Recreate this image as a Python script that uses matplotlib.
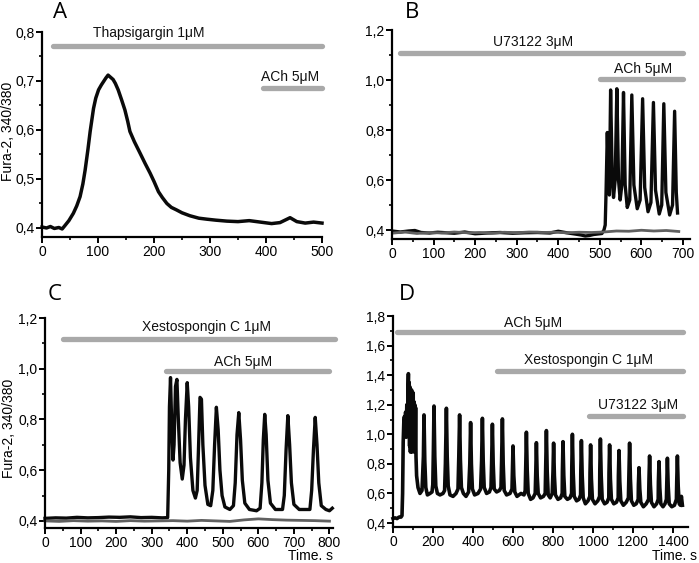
import matplotlib
matplotlib.use("Agg")
import matplotlib.pyplot as plt
from matplotlib.ticker import MultipleLocator, FuncFormatter

plt.rcParams['font.family'] = ['Liberation Sans', 'DejaVu Sans']

# ---------------- DATA ----------------
# Panel A: Thapsigargin
a_t = [0, 8, 15, 22, 30, 36, 41, 48, 56, 62, 68, 73, 77, 82, 86, 92, 96, 101, 106, 110, 114, 118, 122, 127,
       131, 136, 142, 148, 153, 157, 165, 175, 184, 193, 200, 208, 215, 223, 231, 240, 250, 264, 280, 294,
       310, 330, 350, 370, 390, 410, 425, 443, 455, 470, 485, 500]
a_v = [0.402, 0.400, 0.403, 0.399, 0.401, 0.398, 0.405, 0.415, 0.430, 0.445, 0.464, 0.490, 0.518, 0.560,
       0.597, 0.644, 0.665, 0.682, 0.692, 0.699, 0.706, 0.712, 0.708, 0.703, 0.695, 0.682, 0.662, 0.641,
       0.618, 0.597, 0.576, 0.553, 0.532, 0.512, 0.495, 0.474, 0.462, 0.450, 0.442, 0.437, 0.431, 0.425,
       0.420, 0.418, 0.416, 0.414, 0.413, 0.415, 0.412, 0.409, 0.411, 0.421, 0.413, 0.410, 0.412, 0.410]

# Panel B: U73122
b_t = [5, 20, 40, 55, 70, 90, 110, 130, 150, 175, 200, 230, 260, 290, 320, 350, 380, 400, 420, 440, 455,
       465, 475, 485, 495, 505, 510, 513, 515, 518, 521, 523, 526, 530, 533, 537, 541, 545, 549, 553, 557,
       561, 566, 572, 577, 582, 590, 597, 603, 608, 616, 623, 629, 634, 643, 649, 654, 659, 668, 675, 680,
       684, 687]
b_v = [0.395, 0.392, 0.396, 0.398, 0.390, 0.388, 0.391, 0.389, 0.387, 0.392, 0.385, 0.388, 0.390, 0.387,
       0.389, 0.390, 0.388, 0.395, 0.389, 0.384, 0.380, 0.376, 0.378, 0.382, 0.384, 0.386, 0.400, 0.420,
       0.550, 0.790, 0.600, 0.540, 0.960, 0.600, 0.530, 0.600, 0.965, 0.600, 0.520, 0.580, 0.950, 0.580,
       0.490, 0.520, 0.940, 0.580, 0.485, 0.520, 0.925, 0.570, 0.473, 0.510, 0.910, 0.560, 0.464, 0.500,
       0.905, 0.550, 0.460, 0.500, 0.875, 0.550, 0.468]
b_ctrl_t = [5, 30, 60, 90, 120, 150, 180, 210, 240, 270, 300, 330, 360, 390, 420, 450, 480, 510, 540, 570,
            600, 630, 660, 690]
b_ctrl_v = [0.388, 0.392, 0.386, 0.390, 0.388, 0.392, 0.389, 0.390, 0.387, 0.391, 0.389, 0.392, 0.390,
            0.391, 0.389, 0.391, 0.390, 0.392, 0.396, 0.395, 0.399, 0.396, 0.398, 0.394]

# Panel C: Xestospongin C
c_t = [0, 30, 60, 90, 120, 150, 180, 210, 240, 270, 300, 330, 345, 348, 350, 353, 356, 360, 363, 367, 371,
       375, 380, 386, 391, 395, 400, 404, 409, 416, 423, 428, 432, 436, 440, 444, 450, 458, 466, 472, 477,
       482, 487, 492, 498, 506, 520, 530, 535, 540, 545, 550, 555, 562, 575, 595, 605, 610, 614, 618, 622,
       627, 634, 648, 668, 673, 678, 683, 688, 693, 700, 715, 745, 750, 755, 760, 765, 770, 777, 790, 800,
       808]
c_v = [0.410, 0.412, 0.411, 0.414, 0.412, 0.413, 0.415, 0.414, 0.416, 0.413, 0.414, 0.412, 0.413, 0.600,
       0.850, 0.965, 0.800, 0.640, 0.700, 0.930, 0.958, 0.800, 0.630, 0.565, 0.620, 0.800, 0.945, 0.850,
       0.650, 0.520, 0.490, 0.520, 0.700, 0.887, 0.880, 0.700, 0.540, 0.465, 0.460, 0.520, 0.700, 0.848,
       0.760, 0.600, 0.500, 0.455, 0.445, 0.460, 0.550, 0.740, 0.827, 0.720, 0.560, 0.470, 0.445, 0.440,
       0.450, 0.550, 0.720, 0.820, 0.740, 0.560, 0.470, 0.445, 0.445, 0.500, 0.680, 0.815, 0.700, 0.550,
       0.465, 0.445, 0.445, 0.520, 0.680, 0.808, 0.700, 0.550, 0.460, 0.445, 0.440, 0.450]
c_ctrl_t = [0, 40, 80, 120, 160, 200, 240, 280, 320, 360, 400, 440, 480, 520, 560, 600, 640, 680, 720,
            760, 800]
c_ctrl_v = [0.400, 0.398, 0.401, 0.399, 0.400, 0.398, 0.401, 0.399, 0.400, 0.401, 0.399, 0.402, 0.400,
            0.398, 0.404, 0.408, 0.405, 0.403, 0.402, 0.401, 0.399]

# Panel D: ACh, then Xestospongin C, then U73122
d_t = [0, 10, 20, 30, 40, 45, 48, 51, 54, 57, 60, 63, 66, 69, 72, 75, 77, 79, 81, 83, 85, 87, 89, 91, 93,
       95, 97, 99, 101, 103, 105, 107, 109, 111, 113, 115, 118, 125, 135, 145,
       152, 155, 159, 164, 172, 185, 195,
       199, 202, 205, 209, 214, 222, 235, 250, 258,
       262, 267, 271, 276, 285, 300, 315, 325,
       329, 333, 337, 342, 352, 365, 378,
       384, 388, 392, 397, 408, 425, 438,
       443, 447, 451, 456, 468, 482, 490,
       493, 497, 501, 506, 518, 532, 540,
       543, 547, 551, 556, 568, 585, 595,
       597, 600, 604, 609, 620, 640, 655, 661,
       664, 667, 671, 676, 688, 700, 711,
       714, 717, 721, 726, 738, 752, 761,
       764, 767, 771, 776, 786, 796,
       800, 803, 807, 812, 825, 838, 846,
       847, 850, 854, 859, 872, 885, 893,
       894, 897, 901, 906, 918, 930, 938,
       939, 942, 946, 951, 962, 975, 984,
       985, 988, 992, 997, 1010, 1024, 1033,
       1034, 1037, 1041, 1046, 1058, 1070, 1079,
       1080, 1083, 1087, 1092, 1104, 1117, 1126,
       1127, 1130, 1134, 1139, 1152, 1166, 1177,
       1180, 1183, 1187, 1192, 1204, 1216, 1226,
       1227, 1230, 1234, 1239, 1252, 1266, 1278,
       1280, 1283, 1287, 1292, 1305, 1318, 1326,
       1327, 1330, 1334, 1339, 1350, 1360, 1367,
       1369, 1372, 1376, 1381, 1394, 1407, 1417,
       1419, 1422, 1426, 1431, 1437, 1442, 1447]
d_v = [0.430, 0.435, 0.430, 0.440, 0.440, 0.450, 0.600, 0.950, 1.080, 1.120, 1.020, 1.150, 0.980, 1.200,
       1.000, 1.300, 1.410, 1.050, 1.350, 0.920, 1.320, 0.880, 1.280, 0.950, 1.300, 0.880, 1.250, 0.920,
       1.280, 0.900, 1.220, 0.880, 1.200, 0.920, 1.180, 0.850, 0.720, 0.640, 0.600, 0.620,
       0.850, 1.131, 0.820, 0.640, 0.590, 0.600, 0.610,
       0.660, 0.900, 1.191, 0.850, 0.650, 0.600, 0.590, 0.600, 0.620,
       0.800, 1.176, 0.850, 0.650, 0.590, 0.580, 0.600, 0.630,
       0.850, 1.131, 0.830, 0.640, 0.600, 0.580, 0.610,
       0.800, 1.079, 0.800, 0.630, 0.590, 0.600, 0.630,
       0.820, 1.108, 0.820, 0.640, 0.600, 0.610, 0.640,
       0.800, 1.068, 0.800, 0.630, 0.610, 0.620, 0.640,
       0.820, 1.104, 0.800, 0.620, 0.590, 0.600, 0.630,
       0.750, 0.921, 0.720, 0.610, 0.580, 0.600, 0.590, 0.620,
       0.800, 1.014, 0.760, 0.600, 0.560, 0.570, 0.600,
       0.750, 0.943, 0.720, 0.600, 0.570, 0.580, 0.600,
       0.800, 1.025, 0.750, 0.590, 0.570, 0.600,
       0.750, 0.940, 0.720, 0.590, 0.560, 0.570, 0.600,
       0.750, 0.950, 0.720, 0.580, 0.560, 0.570, 0.600,
       0.780, 1.000, 0.740, 0.580, 0.550, 0.560, 0.590,
       0.750, 0.957, 0.720, 0.570, 0.530, 0.550, 0.580,
       0.740, 0.928, 0.700, 0.560, 0.530, 0.550, 0.580,
       0.760, 0.968, 0.720, 0.560, 0.530, 0.540, 0.570,
       0.740, 0.928, 0.700, 0.560, 0.530, 0.540, 0.570,
       0.720, 0.890, 0.680, 0.550, 0.520, 0.540, 0.570,
       0.740, 0.940, 0.700, 0.550, 0.520, 0.530, 0.560,
       0.660, 0.774, 0.630, 0.540, 0.510, 0.530, 0.560,
       0.700, 0.853, 0.660, 0.540, 0.510, 0.530, 0.560,
       0.680, 0.815, 0.640, 0.530, 0.510, 0.530, 0.560,
       0.680, 0.838, 0.650, 0.530, 0.510, 0.520, 0.560,
       0.700, 0.853, 0.650, 0.530, 0.520, 0.580, 0.520]

# Treatment bars: (label, start, end, bar level, label x, label y)
a_bars = [("Thapsigargin 1\u03bcM", 20, 500, 0.772, 190, 0.797),
          ("ACh 5\u03bcM", 395, 500, 0.686, 443, 0.708)]
b_bars = [("U73122 3\u03bcM", 20, 700, 1.108, 339, 1.152),
          ("ACh 5\u03bcM", 500, 700, 1.004, 604, 1.044)]
c_bars = [("Xestospongin C 1\u03bcM", 50, 815, 1.117, 455, 1.165),
          ("ACh 5\u03bcM", 340, 800, 0.991, 556, 1.026)]
d_bars = [("ACh 5\u03bcM", 20, 1450, 1.690, 700, 1.753),
          ("Xestospongin C 1\u03bcM", 520, 1450, 1.428, 975, 1.500),
          ("U73122 3\u03bcM", 980, 1450, 1.124, 1225, 1.198)]

# ---------------- FIGURE ----------------
W, H = 699, 563
fig = plt.figure(figsize=(W / 100, H / 100), dpi=100)

def px_axes(l, r, t, b):
    return fig.add_axes([l / W, 1 - b / H, (r - l) / W, (b - t) / H])

axA = px_axes(42, 322, 32, 237)
axB = px_axes(392, 690, 30, 239)
axC = px_axes(45, 333, 318, 528)
axD = px_axes(393, 688, 316, 527)

comma = FuncFormatter(lambda v, p: ("%.1f" % v).replace(".", ","))

def style(ax, xlim, ylim, xmaj, xmin, ymaj, ymin):
    ax.set_xlim(*xlim)
    ax.set_ylim(*ylim)
    for s in ("top", "right"):
        ax.spines[s].set_visible(False)
    for s in ("left", "bottom"):
        ax.spines[s].set_linewidth(1.6)
    ax.xaxis.set_major_locator(MultipleLocator(xmaj))
    ax.xaxis.set_minor_locator(MultipleLocator(xmin))
    ax.yaxis.set_major_locator(MultipleLocator(ymaj))
    ax.yaxis.set_minor_locator(MultipleLocator(ymin))
    ax.yaxis.set_major_formatter(comma)
    ax.tick_params(which="major", direction="out", length=4, width=1.4, labelsize=10, pad=1.5)
    ax.tick_params(which="minor", direction="out", length=2.5, width=1.2)
    ax.patch.set_alpha(0)

def bars(ax, blist):
    for lab, x0, x1, y, tx, ty in blist:
        ax.plot([x0, x1], [y, y], color="#a9a9a9", lw=3.8, solid_capstyle="round", clip_on=False)
        ax.text(tx, ty, lab, ha="center", va="center", fontsize=10, color="#111111", clip_on=False)

black = "#0a0a0a"
grey = "#606060"

style(axA, (0, 500), (0.3816, 0.8), 100, 50, 0.1, 0.05)
axA.plot(a_t, a_v, color=black, lw=2.5, clip_on=False, solid_joinstyle="round")
bars(axA, a_bars)

style(axB, (0, 717), (0.364, 1.2), 100, 50, 0.2, 0.1)
axB.plot(b_t, b_v, color=black, lw=2.4, clip_on=False, solid_joinstyle="round")
axB.plot(b_ctrl_t, b_ctrl_v, color=grey, lw=2.0, clip_on=False)
bars(axB, b_bars)

style(axC, (0, 810), (0.372, 1.2), 100, 50, 0.2, 0.1)
axC.plot(c_t, c_v, color=black, lw=2.4, clip_on=False, solid_joinstyle="round")
axC.plot(c_ctrl_t, c_ctrl_v, color=grey, lw=2.0, clip_on=False)
bars(axC, c_bars)

style(axD, (0, 1475), (0.373, 1.8), 200, 100, 0.2, 0.1)
axD.plot(d_t, d_v, color=black, lw=2.6, clip_on=False, solid_joinstyle="round")
bars(axD, d_bars)

# Panel letters
for lab, x, y in (("A", 60, 13), ("B", 412, 13), ("C", 55, 294), ("D", 407, 294)):
    fig.text(x / W, 1 - y / H, lab, fontsize=16, ha="center", va="center", family=["Open Sans", "DejaVu Sans"])

# Y labels
fig.text(8 / W, 1 - 131 / H, "Fura-2, 340/380", rotation=90, ha="center", va="center", fontsize=10)
fig.text(9 / W, 1 - 428 / H, "Fura-2, 340/380", rotation=90, ha="center", va="center", fontsize=10)

# x-axis unit labels
fig.text(333 / W, 1 - 556 / H, "Time. s", ha="right", va="center", fontsize=10)
fig.text(697 / W, 1 - 556 / H, "Time. s", ha="right", va="center", fontsize=10)

fig.savefig("out.png", dpi=100)
